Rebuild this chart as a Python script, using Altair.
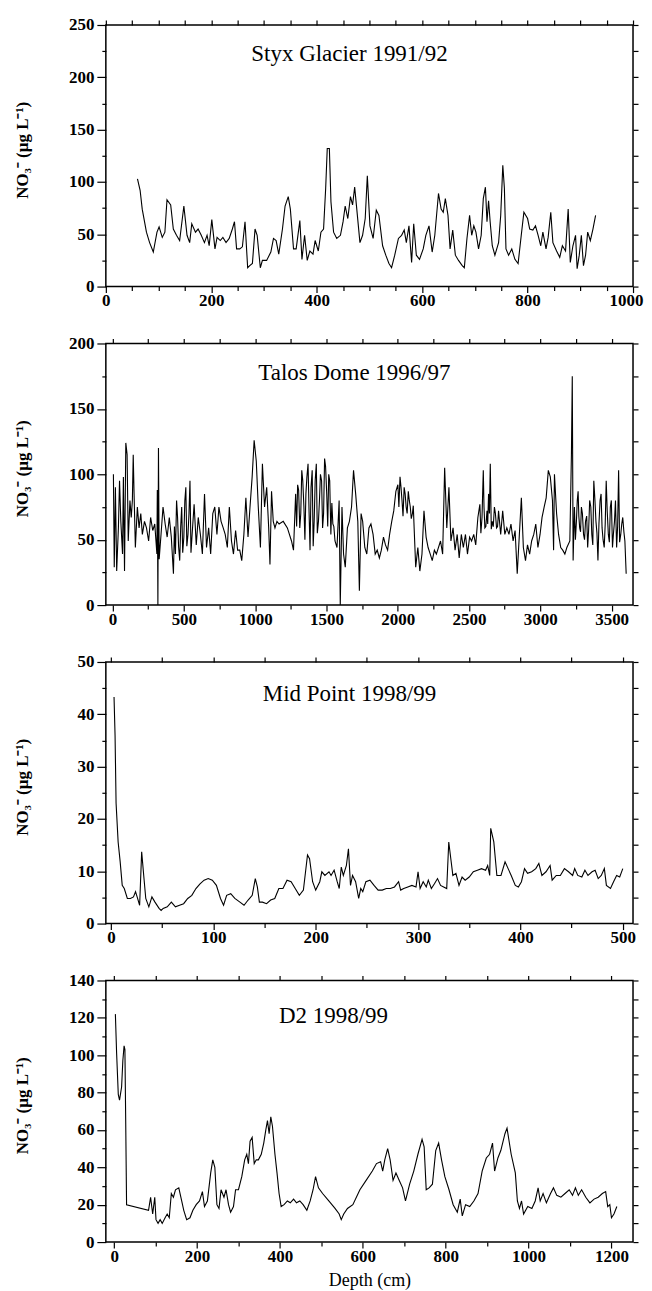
import altair as alt
import pandas as pd

# ---------------- data ----------------
styx_depth = [60, 65, 69, 77, 83, 90, 97, 101, 107, 112,
              116, 123, 128, 134, 140, 148, 154, 159, 163, 170,
              175, 181, 187, 192, 196, 201, 207, 211, 217, 222,
              228, 234, 240, 244, 248, 254, 259, 264, 269, 273,
              278, 283, 287, 293, 297, 305, 313, 318, 323, 328,
              335, 340, 346, 350, 356, 361, 368, 372, 377, 382,
              387, 393, 397, 403, 408, 413, 417, 420, 424, 427,
              432, 438, 445, 450, 454, 459, 464, 468, 472, 476,
              482, 487, 492, 496, 501, 507, 513, 518, 525, 531,
              537, 542, 548, 555, 561, 566, 570, 575, 580, 584,
              589, 595, 602, 607, 613, 619, 624, 631, 636, 640,
              644, 649, 653, 658, 663, 669, 676, 680, 685, 690,
              694, 698, 702, 707, 712, 716, 720, 723, 726, 729,
              733, 738, 745, 749, 753, 756, 759, 764, 770, 776,
              782, 788, 793, 800, 804, 810, 815, 820, 825, 829,
              835, 839, 844, 848, 855, 861, 866, 872, 877, 881,
              886, 891, 894, 898, 902, 906, 910, 914, 919, 924,
              929]
styx_no3 = [103, 92, 74, 52, 42, 33, 52, 57, 47, 52,
            83, 78, 55, 49, 44, 77, 49, 42, 60, 52,
            55, 49, 42, 49, 39, 64, 36, 47, 44, 47,
            42, 46, 55, 62, 36, 36, 38, 62, 18, 20,
            22, 55, 49, 18, 25, 25, 33, 46, 44, 31,
            55, 77, 86, 74, 36, 36, 63, 26, 49, 25,
            34, 31, 44, 34, 52, 55, 94, 132, 132, 81,
            52, 46, 49, 62, 77, 65, 86, 78, 95, 74,
            42, 49, 65, 106, 58, 46, 73, 68, 39, 30,
            22, 18, 30, 46, 49, 54, 42, 58, 23, 60,
            30, 26, 36, 49, 58, 33, 49, 89, 74, 71,
            84, 68, 36, 54, 30, 25, 20, 18, 46, 68,
            49, 58, 52, 36, 49, 84, 95, 62, 82, 62,
            39, 30, 42, 68, 116, 94, 36, 30, 36, 26,
            22, 49, 71, 65, 55, 54, 58, 49, 39, 52,
            36, 47, 71, 42, 34, 28, 39, 34, 74, 23,
            39, 49, 17, 30, 49, 20, 30, 52, 44, 55,
            68]

talos_depth = [6, 12, 20, 29, 41, 49, 58, 70, 76, 84,
               93, 102, 110, 122, 131, 139, 145, 151, 160, 174,
               186, 198, 209, 224, 238, 253, 267, 282, 296, 311,
               314, 318, 322, 327, 340, 354, 369, 383, 398, 412,
               427, 441, 456, 471, 485, 500, 514, 529, 543, 558,
               572, 587, 601, 616, 630, 645, 659, 674, 688, 703,
               717, 732, 746, 761, 776, 790, 805, 819, 834, 848,
               863, 877, 892, 906, 921, 935, 950, 964, 979, 993,
               1008, 1022, 1037, 1051, 1066, 1081, 1095, 1104, 1115, 1127,
               1139, 1153, 1168, 1197, 1226, 1255, 1269, 1284, 1298, 1313,
               1327, 1342, 1356, 1371, 1385, 1400, 1414, 1429, 1444, 1458,
               1473, 1487, 1502, 1516, 1531, 1545, 1560, 1574, 1589, 1597,
               1609, 1620, 1632, 1647, 1661, 1676, 1690, 1705, 1720, 1731,
               1743, 1754, 1769, 1783, 1798, 1812, 1827, 1842, 1856, 1871,
               1885, 1900, 1914, 1929, 1943, 1958, 1972, 1987, 2001, 2016,
               2030, 2045, 2059, 2074, 2088, 2103, 2115, 2126, 2141, 2155,
               2170, 2184, 2199, 2213, 2228, 2242, 2257, 2271, 2300, 2315,
               2329, 2344, 2359, 2373, 2388, 2402, 2417, 2431, 2446, 2460,
               2475, 2489, 2504, 2518, 2533, 2547, 2562, 2576, 2591, 2600,
               2611, 2626, 2637, 2649, 2663, 2678, 2693, 2707, 2722, 2736,
               2751, 2765, 2780, 2794, 2809, 2823, 2838, 2852, 2867, 2881,
               2896, 2910, 2925, 2939, 2954, 2968, 2983, 2998, 3012, 3027,
               3041, 3056, 3070, 3085, 3093, 3099, 3114, 3128, 3143, 3157,
               3172, 3186, 3207, 3218, 3224, 3230, 3239, 3253, 3265, 3276,
               3288, 3303, 3317, 3332, 3346, 3361, 3375, 3390, 3404, 3419,
               3433, 3448, 3462, 3477, 3491, 3506, 3520, 3535, 3549, 3564,
               3578, 3593, 3602]
talos_no3 = [100, 29, 90, 26, 59, 95, 64, 39, 98, 26,
             124, 115, 49, 80, 67, 80, 115, 85, 44, 75,
             59, 70, 54, 64, 59, 49, 67, 57, 62, 39,
             88, 0, 120, 35, 54, 75, 62, 52, 67, 52,
             24, 39, 67, 34, 75, 52, 90, 54, 95, 54,
             77, 46, 67, 54, 39, 85, 44, 59, 39, 70,
             75, 54, 75, 64, 59, 54, 44, 75, 49, 39,
             57, 42, 42, 34, 54, 82, 52, 75, 98, 126,
             110, 75, 44, 108, 75, 90, 59, 31, 87, 64,
             59, 64, 62, 64, 59, 49, 42, 85, 92, 59,
             103, 75, 85, 108, 42, 103, 64, 108, 64, 100,
             59, 112, 85, 100, 54, 62, 49, 44, 80, 0,
             75, 39, 29, 59, 64, 75, 103, 85, 64, 11,
             70, 64, 44, 39, 59, 62, 54, 39, 42, 36,
             42, 52, 46, 42, 54, 64, 72, 87, 92, 98,
             80, 90, 75, 87, 75, 70, 59, 29, 44, 26,
             39, 72, 52, 44, 39, 34, 42, 39, 49, 39,
             105, 59, 90, 49, 59, 42, 54, 36, 54, 44,
             54, 39, 52, 49, 54, 46, 67, 77, 67, 103,
             59, 72, 85, 108, 64, 75, 59, 72, 54, 72,
             54, 59, 54, 62, 49, 57, 24, 52, 82, 44,
             34, 46, 39, 49, 54, 62, 44, 54, 67, 75,
             82, 103, 98, 80, 42, 100, 70, 54, 44, 42,
             39, 44, 49, 115, 175, 34, 75, 64, 87, 59,
             75, 54, 64, 44, 80, 54, 95, 64, 34, 80,
             59, 44, 95, 54, 75, 44, 64, 44, 103, 54,
             67, 49, 24]

# extra readings inside the densest (dark) stretches of the Talos Dome record
talos_depth_extra = [434, 449, 463, 478, 492, 507, 521, 536, 550,
                     1291, 1305, 1320, 1334, 1349, 1363, 1378, 1392, 1407, 1421,
                     1436, 1451, 1466, 1480, 1494, 1509, 1523, 1538, 1552,
                     2008, 2023, 2037, 2052, 2066, 2081, 2095, 2109,
                     2583, 2605, 2618, 2631, 2643, 2656, 2670, 2685, 2700,
                     3246, 3259, 3270, 3282, 3295, 3310, 3325, 3339, 3354, 3368,
                     3383, 3397, 3411, 3426, 3440, 3455, 3469, 3484, 3498, 3513,
                     3527, 3542, 3556, 3571, 3586]
talos_no3_extra = [60, 80, 45, 60, 40, 80, 45, 70, 40,
                   60, 88, 70, 95, 50, 98, 72, 90, 45, 95,
                   55, 80, 95, 70, 106, 60, 95, 78, 60,
                   75, 90, 68, 85, 70, 80, 66, 76,
                   55, 75, 60, 62, 70, 58, 60, 70, 60,
                   50, 80, 68, 56, 70, 50, 68, 58, 75, 46,
                   80, 55, 62, 85, 50, 62, 72, 48, 80, 55,
                   80, 60, 48, 62, 56]

mid_depth = [3, 4, 5, 7, 9, 11, 13, 16, 19, 22,
             24, 26, 28, 30, 32, 34, 37, 40, 43, 47,
             49, 51, 55, 59, 63, 67, 71, 75, 79, 83,
             87, 91, 95, 99, 103, 107, 110, 113, 117, 121,
             126, 130, 134, 138, 141, 143, 145, 148, 152, 156,
             160, 164, 168, 172, 176, 180, 184, 188, 192, 194,
             197, 200, 204, 206, 209, 213, 215, 218, 221, 223,
             225, 227, 230, 232, 234, 236, 239, 242, 244, 246,
             249, 253, 257, 261, 265, 269, 273, 277, 281, 283,
             286, 290, 294, 298, 300, 302, 305, 308, 310, 313,
             316, 319, 322, 325, 328, 330, 332, 334, 337, 340,
             343, 346, 350, 354, 358, 362, 366, 368, 370, 371,
             374, 377, 381, 385, 388, 391, 395, 398, 401, 404,
             407, 411, 415, 418, 421, 425, 429, 431, 435, 439,
             443, 447, 451, 453, 456, 460, 463, 466, 470, 473,
             476, 479, 482, 484, 488, 491, 494, 497, 500]
mid_no3 = [43.3, 36, 23, 15.6, 11.8, 7.3, 6.7, 4.8, 4.8, 5.1,
           6.1, 4.8, 3.5, 13.7, 9.2, 4.8, 3.2, 5.1, 4.1, 2.9,
           2.5, 2.9, 3.2, 4.1, 3.2, 3.5, 3.8, 4.8, 5.4, 6.7,
           7.6, 8.3, 8.6, 8.3, 7.3, 4.8, 3.5, 5.4, 5.7, 4.8,
           4.1, 3.5, 4.5, 5.4, 8.6, 7.0, 4.1, 4.1, 3.8, 4.5,
           4.8, 6.7, 6.7, 8.3, 8.0, 6.7, 5.4, 6.4, 13.1, 12.4,
           8.0, 6.4, 8.0, 9.9, 9.2, 9.9, 9.2, 10.2, 8.0, 6.7,
           10.8, 9.2, 11.1, 14.3, 7.3, 9.2, 8.0, 4.8, 6.7, 6.1,
           8.0, 8.3, 7.3, 6.4, 6.4, 6.7, 6.7, 7.0, 8.0, 6.4,
           6.7, 7.0, 7.3, 7.0, 9.9, 6.7, 8.0, 7.0, 8.3, 6.7,
           7.6, 8.6, 7.3, 7.0, 6.7, 15.6, 12.4, 9.2, 9.6, 7.3,
           8.9, 8.3, 8.9, 9.9, 10.2, 10.5, 10.2, 11.1, 9.2, 18.2,
           15.6, 9.2, 9.2, 11.8, 10.5, 9.2, 7.3, 7.0, 8.0, 10.5,
           9.6, 9.9, 10.5, 11.5, 9.2, 9.9, 11.1, 8.3, 9.2, 9.2,
           10.5, 9.9, 9.2, 10.5, 9.2, 8.9, 10.2, 9.2, 9.9, 10.2,
           8.6, 9.2, 10.5, 7.3, 6.7, 8.0, 9.2, 8.9, 10.5]

d2_depth = [3, 6, 10, 13, 18, 21, 24, 26, 28, 30,
            83, 88, 93, 98, 101, 106, 111, 116, 123, 128,
            133, 138, 143, 148, 156, 163, 168, 175, 183, 190,
            198, 206, 213, 218, 225, 233, 238, 243, 248, 253,
            258, 265, 270, 276, 281, 288, 293, 300, 308, 315,
            320, 324, 328, 333, 338, 343, 348, 355, 361, 366,
            370, 374, 378, 382, 388, 393, 398, 403, 410, 418,
            425, 433, 440, 448, 456, 465, 473, 480, 486, 493,
            503, 518, 533, 543, 548, 554, 563, 576, 593, 608,
            623, 633, 643, 648, 653, 660, 666, 673, 680, 688,
            696, 703, 713, 723, 733, 743, 748, 753, 760, 768,
            776, 783, 790, 798, 808, 818, 828, 835, 840, 848,
            858, 868, 878, 888, 898, 906, 913, 918, 926, 933,
            943, 948, 958, 968, 973, 978, 983, 988, 998, 1008,
            1016, 1023, 1028, 1035, 1043, 1053, 1060, 1068, 1078, 1088,
            1098, 1106, 1113, 1120, 1128, 1138, 1148, 1158, 1168, 1178,
            1186, 1191, 1196, 1200, 1206, 1213]
d2_no3 = [122, 101, 79, 76, 83, 97, 105, 103, 63, 20,
          17, 24, 15, 24, 12, 10, 12, 10, 13, 15,
          13, 26, 24, 28, 29, 22, 17, 12, 13, 17,
          20, 22, 27, 19, 22, 37, 44, 40, 20, 18,
          28, 24, 28, 20, 16, 19, 28, 28, 35, 44,
          47, 42, 54, 56, 42, 44, 44, 47, 53, 60,
          65, 58, 67, 62, 47, 37, 26, 19, 20, 22,
          21, 23, 21, 22, 20, 17, 22, 28, 35, 29,
          26, 22, 18, 15, 12, 15, 18, 20, 28, 33,
          38, 42, 43, 38, 44, 50, 44, 33, 37, 33,
          29, 22, 31, 38, 47, 55, 51, 28, 29, 31,
          49, 53, 44, 35, 28, 20, 16, 23, 14, 20,
          19, 22, 26, 38, 45, 47, 53, 38, 45, 49,
          58, 61, 47, 37, 22, 18, 22, 15, 19, 18,
          22, 29, 22, 26, 21, 26, 29, 25, 24, 26,
          28, 25, 29, 25, 28, 24, 21, 23, 24, 26,
          27, 19, 20, 13, 15, 19]

panel_titles = ["Styx Glacier 1991/92", "Talos Dome 1996/97",
                "Mid Point 1998/99", "D2 1998/99"]
y_title = "NO₃⁻ (µg L⁻¹)"
x_title = "Depth (cm)"

W, H = 528, 262
SERIF = "Liberation Serif"


def panel(depth, no3, xdom, xtick, xlab, ymax, ytick, ylab, title, tx, ty, xt=None):
    df = pd.DataFrame({"depth": depth, "no3": no3}).sort_values("depth")
    xvals = [v for v in range(0, int(xdom[1]) + 1, xtick) if v >= xdom[0]]
    yvals = list(range(0, ymax + 1, ytick))
    xs = alt.Scale(domain=xdom, nice=False, zero=False)
    ys = alt.Scale(domain=[0, ymax], nice=False)
    xend = xvals[-1]

    x_main = alt.X(
        "depth:Q", scale=xs, title=xt,
        axis=alt.Axis(
            orient="bottom", values=xvals, format="d", labelFlush=False,
            labelExpr=f"datum.value % {xlab} === 0 ? datum.label : ''",
            labelOffset={"condition": {"test": f"datum.value === {xend} && {xend} === {int(xdom[1])}",
                                       "value": -7}, "value": 0},
            tickSize={"condition": {"test": f"datum.value % {xlab} === 0", "value": 6}, "value": 4},
            labelPadding=0, titlePadding=8,
            titleFont=SERIF, titleFontSize=18, titleFontWeight="normal",
        ),
    )
    y_main = alt.Y(
        "no3:Q", scale=ys, title=y_title,
        axis=alt.Axis(
            orient="left", values=yvals, format="d", labelFlush=False,
            labelExpr=f"datum.value % {ylab} === 0 ? datum.label : ''",
            tickSize={"condition": {"test": f"datum.value % {ylab} === 0", "value": 9}, "value": 4},
            labelPadding=3,
            titleX=-83, titleY=125, titleAngle=-90, titleAlign="center",
            titleBaseline="middle",
            titleFont=SERIF, titleFontSize=17, titleFontWeight="bold",
        ),
    )
    line = alt.Chart(df).mark_line(color="black", strokeWidth=1.1).encode(x=x_main, y=y_main)

    frame = alt.Chart(df).mark_line(opacity=0).encode(
        x=alt.X("depth:Q", scale=xs, title=None,
                axis=alt.Axis(orient="top", values=xvals, labels=False, tickSize=5)),
        y=alt.Y("no3:Q", scale=ys, title=None,
                axis=alt.Axis(orient="right", values=yvals, labels=False, tickSize=5)),
    )

    label = alt.Chart(pd.DataFrame({"t": [title]})).mark_text(
        font=SERIF, fontSize=23, color="black", align="center", baseline="middle"
    ).encode(text="t:N", x=alt.value(tx), y=alt.value(ty))

    return alt.layer(line, frame, label).resolve_axis(
        x="independent", y="independent"
    ).properties(width=W, height=H)


p1 = panel(styx_depth, styx_no3, [0, 1000], 50, 200, 250, 25, 50, panel_titles[0], 244, 29)
p2 = panel(talos_depth + talos_depth_extra, talos_no3 + talos_no3_extra,
           [-47, 3650], 250, 500, 200, 25, 50, panel_titles[1], 249, 30)
p3 = panel(mid_depth, mid_no3, [-5, 510], 50, 100, 50, 5, 10, panel_titles[2], 244, 32)
p4 = panel(d2_depth, d2_no3, [-20, 1252], 100, 200, 140, 10, 20, panel_titles[3], 228, 36, xt=x_title)

chart = alt.vconcat(p1, p2, p3, p4, spacing=57, bounds="flush").configure_view(
    stroke="black", strokeWidth=1.5
).configure_axis(
    domain=False, tickColor="black", tickWidth=1.2,
    labelFont=SERIF, labelFontSize=17, labelFontWeight="bold", labelColor="black",
    titleColor="black", grid=False,
).properties(padding={"left": 5, "top": 6, "right": 0, "bottom": 0}, background="white")

chart.save("out.html", embed_options={"renderer": "svg", "actions": False})
